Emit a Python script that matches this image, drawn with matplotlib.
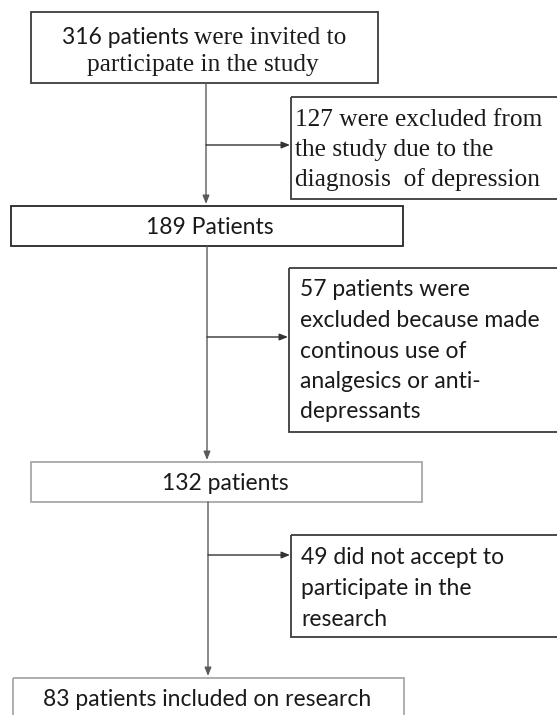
# Flowchart of patient selection, redrawn with matplotlib
import matplotlib.pyplot as plt
from matplotlib.patches import Rectangle

# Texts of the chart
main_steps = ["316 patients were invited to\nparticipate in the study",
              "189 Patients",
              "132 patients",
              "83 patients included on research"]
exclusions = ["127 were excluded from\nthe study due to the\ndiagnosis  of depression",
              "57 patients were\nexcluded because made\ncontinous use of\nanalgesics or anti-\ndepressants",
              "49 did not accept to\nparticipate in the\nresearch"]

SANS = "Lato"
SERIF = "Liberation Serif"
SANS_SIZE = 16.5
SERIF_SIZE = 18.3
TXT = "#1a1a1a"

W, H = 557, 715
fig = plt.figure(figsize=(W / 100, H / 100), dpi=100)
ax = fig.add_axes([0, 0, 1, 1])
ax.set_xlim(0, W)
ax.set_ylim(H, 0)
ax.axis("off")

# layout in pixels (x0, y0, x1, y1)
main_boxes = [((31, 12, 378, 83), "#3c3c3c"),
              ((11, 206, 403, 246), "#262626"),
              ((31, 462, 422, 502), "#a8a8a8"),
              ((13, 678, 404, 740), "#a8a8a8")]
main_text_pos = [None, (210, 226), (225, 482), (207, 698)]
excl_boxes = [(291, 97, 600, 199), (289, 268, 600, 432), (291, 535, 600, 637)]
excl_first_line = [(295, 118), (300, 288), (301, 556)]
excl_line_step = [29.5, 30.5, 30.5]
spine_x = [206, 207, 208]
branch_y = [145, 337, 555]


def box(x0, y0, x1, y1, ec):
    ax.add_patch(Rectangle((x0, y0), x1 - x0, y1 - y0, fill=False,
                           ec=ec, lw=1.3))


for (b, ec) in main_boxes:
    box(*b, ec)
for b in excl_boxes:
    box(*b, "#3c3c3c")

# first box: mixed fonts, like the original
fig.canvas.draw()
line1, line2 = main_steps[0].split("\n")
first_word = "316 patients"
t1 = ax.text(62, 35, first_word, family=SANS, fontsize=SANS_SIZE,
             va="center_baseline", ha="left", color=TXT)
ext = t1.get_window_extent(fig.canvas.get_renderer())
x_end = ax.transData.inverted().transform((ext.x1, 0))[0]
ax.text(x_end + 5, 35, line1[len(first_word):].strip(), family=SERIF,
        fontsize=SERIF_SIZE, va="center_baseline", ha="left", color=TXT)
ax.text(203, 63, line2, family=SERIF, fontsize=SERIF_SIZE,
        va="center_baseline", ha="center", color=TXT)

# other main boxes
for i in (1, 2, 3):
    x, y = main_text_pos[i]
    ax.text(x, y, main_steps[i], family=SANS, fontsize=SANS_SIZE,
            va="center_baseline", ha="center", color=TXT)

# exclusion boxes, one line at a time
for i, txt in enumerate(exclusions):
    x, y = excl_first_line[i]
    fam, size = (SERIF, SERIF_SIZE) if i == 0 else (SANS, SANS_SIZE)
    for k, line in enumerate(txt.split("\n")):
        ax.text(x, y + k * excl_line_step[i], line, family=fam, fontsize=size,
                va="center_baseline", ha="left", color=TXT)

# arrows
arrow = dict(arrowstyle="-|>,head_length=0.5,head_width=0.2",
             color="#333333", lw=1.0, shrinkA=0, shrinkB=0)
tops = [206, 462, 678]
bottoms = [83, 246, 502]
for i in range(3):
    ax.annotate("", xy=(spine_x[i], tops[i] - 2), xytext=(spine_x[i], bottoms[i]),
                arrowprops=dict(arrow, color="#5a5a5a"))
    ax.annotate("", xy=(excl_boxes[i][0] - 1, branch_y[i]),
                xytext=(spine_x[i], branch_y[i]), arrowprops=arrow)

plt.savefig("out.png", dpi=100)
